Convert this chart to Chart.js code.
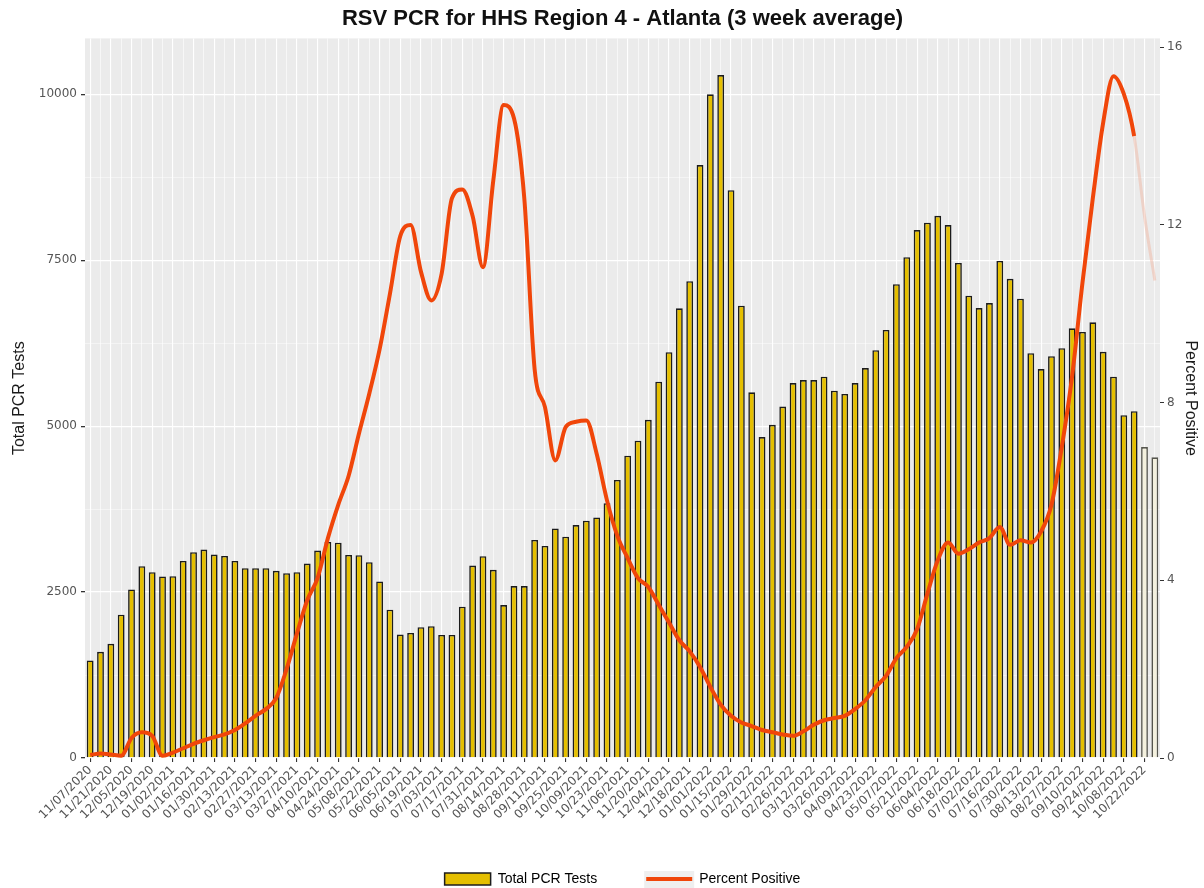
<!DOCTYPE html>
<html>
<head>
<meta charset="utf-8">
<title>RSV PCR for HHS Region 4 - Atlanta</title>
<script src="https://cdn.jsdelivr.net/npm/chart.js@4.4.1/dist/chart.umd.min.js"></script>
<style>
  html, body { margin: 0; padding: 0; background: #ffffff; }
  #wrap { width: 1204px; height: 888px; }
</style>
</head>
<body>
<div id="wrap"><canvas id="chart" width="1204" height="888"></canvas></div>
<script>
// Week ending dates (one bar per week)
const weeks = [
  '11/07/2020','11/14/2020','11/21/2020','11/28/2020','12/05/2020','12/12/2020','12/19/2020','12/26/2020',
  '01/02/2021','01/09/2021','01/16/2021','01/23/2021','01/30/2021','02/06/2021','02/13/2021','02/20/2021',
  '02/27/2021','03/06/2021','03/13/2021','03/20/2021','03/27/2021','04/03/2021','04/10/2021','04/17/2021',
  '04/24/2021','05/01/2021','05/08/2021','05/15/2021','05/22/2021','05/29/2021','06/05/2021','06/12/2021',
  '06/19/2021','06/26/2021','07/03/2021','07/10/2021','07/17/2021','07/24/2021','07/31/2021','08/07/2021',
  '08/14/2021','08/21/2021','08/28/2021','09/04/2021','09/11/2021','09/18/2021','09/25/2021','10/02/2021',
  '10/09/2021','10/16/2021','10/23/2021','10/30/2021','11/06/2021','11/13/2021','11/20/2021','11/27/2021',
  '12/04/2021','12/11/2021','12/18/2021','12/25/2021',
  '01/01/2022','01/08/2022','01/15/2022','01/22/2022','01/29/2022','02/05/2022','02/12/2022','02/19/2022',
  '02/26/2022','03/05/2022','03/12/2022','03/19/2022','03/26/2022','04/02/2022','04/09/2022','04/16/2022',
  '04/23/2022','04/30/2022','05/07/2022','05/14/2022','05/21/2022','05/28/2022','06/04/2022','06/11/2022',
  '06/18/2022','06/25/2022','07/02/2022','07/09/2022','07/16/2022','07/23/2022','07/30/2022','08/06/2022',
  '08/13/2022','08/20/2022','08/27/2022','09/03/2022','09/10/2022','09/17/2022','09/24/2022','10/01/2022',
  '10/08/2022','10/15/2022','10/22/2022','10/29/2022'
];

// Total PCR tests, 3 week average
const totalTests = [
  1470, 1600, 1720, 2160, 2540, 2890, 2800, 2735,
  2740, 2970, 3100, 3140, 3065, 3045, 2970, 2860,
  2860, 2860, 2820, 2785, 2800, 2930, 3125, 3255,
  3245, 3060, 3055, 2950, 2660, 2235, 1860, 1885,
  1970, 1985, 1855, 1855, 2280, 2900, 3040, 2835,
  2305, 2590, 2590, 3285, 3195, 3460, 3335, 3510,
  3575, 3625, 3840, 4190, 4555, 4780, 5095, 5670,
  6115, 6775, 7185, 8935,
  10000, 10290, 8555, 6815, 5510, 4835, 5020, 5295,
  5650, 5695, 5695, 5745, 5535, 5485, 5650, 5875,
  6145, 6450, 7140, 7545, 7955, 8065, 8170, 8030,
  7460, 6965, 6780, 6855, 7490, 7220, 6920, 6100,
  5860, 6055, 6175, 6475, 6420, 6565, 6120, 5745,
  5165, 5225, 4685, 4530
];

// Percent positive, 3 week average
const percentPositive = [
  0.07, 0.10, 0.08, 0.05, 0.45, 0.58, 0.50, 0.05,
  0.12, 0.22, 0.32, 0.40, 0.47, 0.53, 0.63, 0.78,
  0.95, 1.10, 1.35, 2.00, 2.80, 3.55, 4.05, 4.95,
  5.70, 6.35, 7.30, 8.20, 9.20, 10.45, 11.75, 12.00,
  10.95, 10.30, 10.90, 12.60, 12.80, 12.20, 11.05, 13.00,
  14.70, 14.40, 12.60, 8.75, 7.90, 6.70, 7.45, 7.57,
  7.60, 6.85, 5.80, 5.00, 4.50, 4.05, 3.85, 3.45,
  3.05, 2.65, 2.40, 2.05,
  1.60, 1.20, 0.95, 0.80, 0.72, 0.63, 0.58, 0.53,
  0.50, 0.60, 0.75, 0.85, 0.90, 0.95, 1.10, 1.30,
  1.60, 1.85, 2.25, 2.50, 2.90, 3.70, 4.45, 4.85,
  4.60, 4.70, 4.85, 4.95, 5.20, 4.80, 4.90, 4.85,
  5.10, 5.70, 7.00, 8.60, 10.70, 12.60, 14.30, 15.35,
  14.95, 14.00, 12.20, 10.75
];

// Axis tick labels
const testTicks = [0, 2500, 5000, 7500, 10000];
const percentTicks = [0, 4, 8, 12, 16];

// Weeks from this index on are still incomplete and drawn faded
const provisionalFrom = 102;

const GOLD = '#E5BF00';
const BAR_EDGE = '#1c1c1c';
const PALE = '#F4F1DE';
const PALE_EDGE = 'rgba(60,60,50,0.85)';
const ORANGE = '#F0460A';
const ORANGE_FADED = 'rgba(240,170,145,0.40)';
const PANEL = '#EBEBEB';
const KEY_BG = '#EFEFEF';
const TICK_TEXT = '#555555';

// minor grid positions halfway between the labelled test ticks
const testGrid = [];
testTicks.forEach((v, i) => {
  testGrid.push(v);
  if (i < testTicks.length - 1) testGrid.push((v + testTicks[i + 1]) / 2);
});

// grey panel behind the plot, plus the grey key behind the line sample in the legend
const panelBackground = {
  id: 'panelBackground',
  beforeDraw(chart) {
    const { ctx, chartArea: a } = chart;
    ctx.save();
    ctx.fillStyle = PANEL;
    ctx.fillRect(a.left, a.top, a.right - a.left, a.bottom - a.top);
    const lg = chart.legend;
    if (lg && lg.legendHitBoxes && lg.legendHitBoxes[1]) {
      const hb = lg.legendHitBoxes[1];
      const w = lg.options.labels.pointStyleWidth;
      ctx.fillStyle = KEY_BG;
      ctx.fillRect(hb.left - 2, hb.top - 1, w + 4, hb.height + 3);
    }
    ctx.restore();
  }
};

new Chart(document.getElementById('chart'), {
  data: {
    labels: weeks,
    datasets: [
      {
        type: 'bar',
        label: 'Total PCR Tests',
        data: totalTests,
        yAxisID: 'y',
        order: 2,
        backgroundColor: c => c.dataIndex >= provisionalFrom ? PALE : GOLD,
        borderColor: c => c.dataIndex >= provisionalFrom ? PALE_EDGE : BAR_EDGE,
        borderWidth: 1.6,
        barPercentage: 0.66,
        categoryPercentage: 1.0
      },
      {
        type: 'line',
        label: 'Percent Positive',
        data: percentPositive,
        yAxisID: 'y1',
        order: 1,
        borderColor: ORANGE,
        borderWidth: 4,
        pointRadius: 0,
        cubicInterpolationMode: 'monotone',
        segment: {
          borderColor: c => c.p1DataIndex > provisionalFrom - 1 ? ORANGE_FADED : ORANGE,
          borderWidth: c => c.p1DataIndex > provisionalFrom - 1 ? 3 : 4
        }
      }
    ]
  },
  options: {
    responsive: false,
    devicePixelRatio: 1,
    animation: false,
    layout: { padding: 0 },
    plugins: {
      title: {
        display: true,
        text: 'RSV PCR for HHS Region 4 - Atlanta (3 week average)',
        fullSize: false,
        color: '#111111',
        font: { family: 'Liberation Sans, Arial, sans-serif', size: 22, weight: 'bold' },
        padding: { top: 6, bottom: 6 }
      },
      legend: {
        position: 'bottom',
        fullSize: false,
        maxHeight: 65,
        labels: {
          usePointStyle: true,
          pointStyleWidth: 46,
          boxHeight: 12,
          padding: 49,
          color: '#111111',
          font: { family: 'Liberation Sans, Arial, sans-serif', size: 14 },
          generateLabels: () => [
            { text: 'Total PCR Tests', fillStyle: GOLD, strokeStyle: BAR_EDGE, lineWidth: 1.5,
              pointStyle: 'rect', datasetIndex: 0, hidden: false },
            { text: 'Percent Positive', fillStyle: ORANGE, strokeStyle: ORANGE, lineWidth: 4,
              pointStyle: 'line', datasetIndex: 1, hidden: false }
          ]
        }
      },
      tooltip: { enabled: false }
    },
    scales: {
      x: {
        type: 'category',
        offset: true,
        border: { display: false },
        grid: {
          offset: false,
          color: '#FFFFFF',
          lineWidth: c => (c.index % 2 === 0 ? 1.1 : 0.6),
          tickColor: c => (c.index % 2 === 0 ? '#333333' : 'rgba(0,0,0,0)'),
          tickLength: 4
        },
        ticks: {
          autoSkip: false,
          maxRotation: 45,
          minRotation: 45,
          padding: 1,
          color: TICK_TEXT,
          font: { family: 'DejaVu Sans, sans-serif', size: 12 },
          callback: (v, i) => (i % 2 === 0 ? weeks[i] : '')
        },
        afterFit: s => { s.height = 65; }
      },
      y: {
        position: 'left',
        min: 0,
        max: 10843,
        border: { display: false },
        afterBuildTicks: s => { s.ticks = testGrid.map(v => ({ value: v })); },
        grid: {
          color: c => (testTicks.includes(c.tick.value) ? '#FFFFFF' : 'rgba(255,255,255,0.8)'),
          lineWidth: c => (testTicks.includes(c.tick.value) ? 1.3 : 0.6),
          tickColor: c => (testTicks.includes(c.tick.value) ? '#333333' : 'rgba(0,0,0,0)'),
          tickLength: 4
        },
        ticks: {
          color: TICK_TEXT,
          padding: 4,
          font: { family: 'DejaVu Sans, sans-serif', size: 12 },
          callback: v => (testTicks.includes(v) ? String(v) : '')
        },
        title: {
          display: true,
          text: 'Total PCR Tests',
          color: '#1a1a1a',
          font: { family: 'Liberation Sans, Arial, sans-serif', size: 16 },
          padding: { top: 10, bottom: 0 }
        },
        afterFit: s => { s.width = 85; }
      },
      y1: {
        position: 'right',
        min: 0,
        max: 16.2,
        border: { display: false },
        afterBuildTicks: s => { s.ticks = percentTicks.map(v => ({ value: v })); },
        grid: {
          drawOnChartArea: false,
          tickColor: '#333333',
          tickLength: 4
        },
        ticks: {
          color: TICK_TEXT,
          padding: 3,
          font: { family: 'DejaVu Sans, sans-serif', size: 12 },
          callback: v => String(v)
        },
        title: {
          display: true,
          text: 'Percent Positive',
          color: '#1a1a1a',
          font: { family: 'Liberation Sans, Arial, sans-serif', size: 16 },
          padding: { top: 4, bottom: 0 }
        },
        afterFit: s => { s.width = 44; }
      }
    }
  },
  plugins: [panelBackground]
});
</script>
</body>
</html>
